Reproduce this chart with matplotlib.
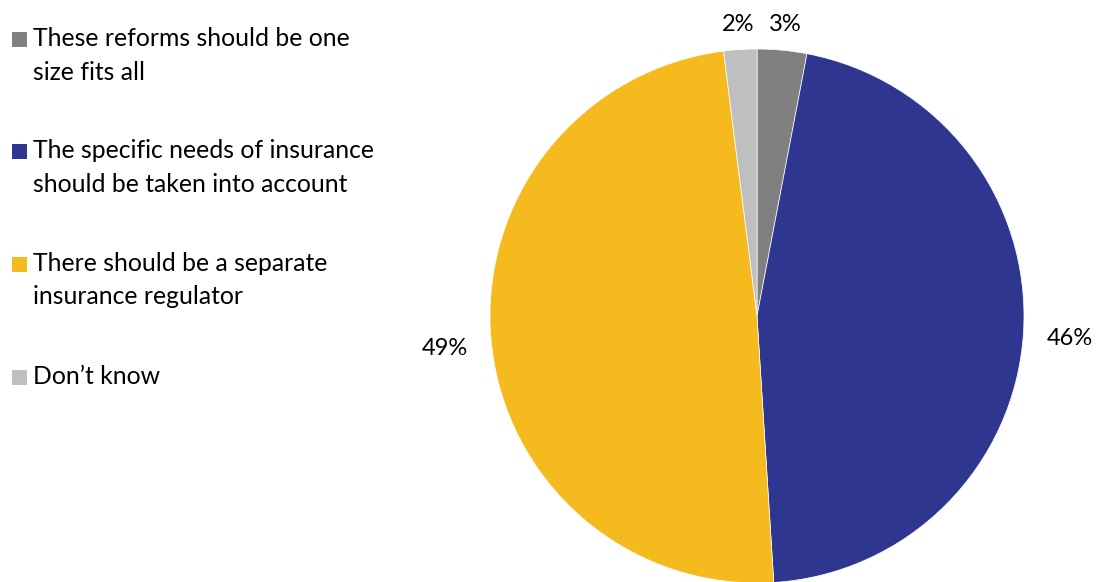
import numpy as np
import matplotlib.pyplot as plt
from matplotlib.patches import Rectangle

labels = [
    "These reforms should be one\nsize fits all",
    "The specific needs of insurance\nshould be taken into account",
    "There should be a separate\ninsurance regulator",
    "Don\u2019t know",
]
values = [3, 46, 49, 2]
colors = ["#808080", "#2E368F", "#F5BA1E", "#BFBFBF"]

plt.rcParams['font.family'] = ['Lato', 'DejaVu Sans']

W, H = 1098, 582
fig = plt.figure(figsize=(W / 100, H / 100), dpi=100)

# pie axes placed in pixel terms: centre (757, 316), radius 267
cx, cy, r = 757, 316, 267
ax = fig.add_axes([(cx - r) / W, (H - cy - r) / H, 2 * r / W, 2 * r / H])
wedges, texts = ax.pie(values, colors=colors, startangle=90, counterclock=False,
                       labels=[f"{v}%" for v in values], labeldistance=1.1,
                       wedgeprops=dict(linewidth=0.5, edgecolor='white'),
                       textprops=dict(fontsize=17, color='black'))
ax.set_xlim(-1, 1)
ax.set_ylim(-1, 1)
ax.set_aspect('equal')

for w, t in zip(wedges, texts):
    ang = np.deg2rad((w.theta1 + w.theta2) / 2)
    d = 1.1 + 0.075 * abs(np.cos(ang))
    t.set_position((d * np.cos(ang), d * np.sin(ang) - 0.01))
    t.set_ha('center')
    t.set_va('center')
    t.set_clip_on(False)

# legend drawn by hand on the left
tops = [32, 144, 257, 370]
for color, label, top in zip(colors, labels, tops):
    fig.patches.append(Rectangle((12 / W, 1 - (top + 15) / H), 15 / W, 15 / H,
                                 transform=fig.transFigure, facecolor=color,
                                 edgecolor='none'))
    for i, line in enumerate(label.split("\n")):
        fig.text(33 / W, 1 - (top + 7 + i * 33) / H, line, fontsize=17.8,
                 va='center', ha='left', color='black')

fig.savefig("out.png", dpi=100)
